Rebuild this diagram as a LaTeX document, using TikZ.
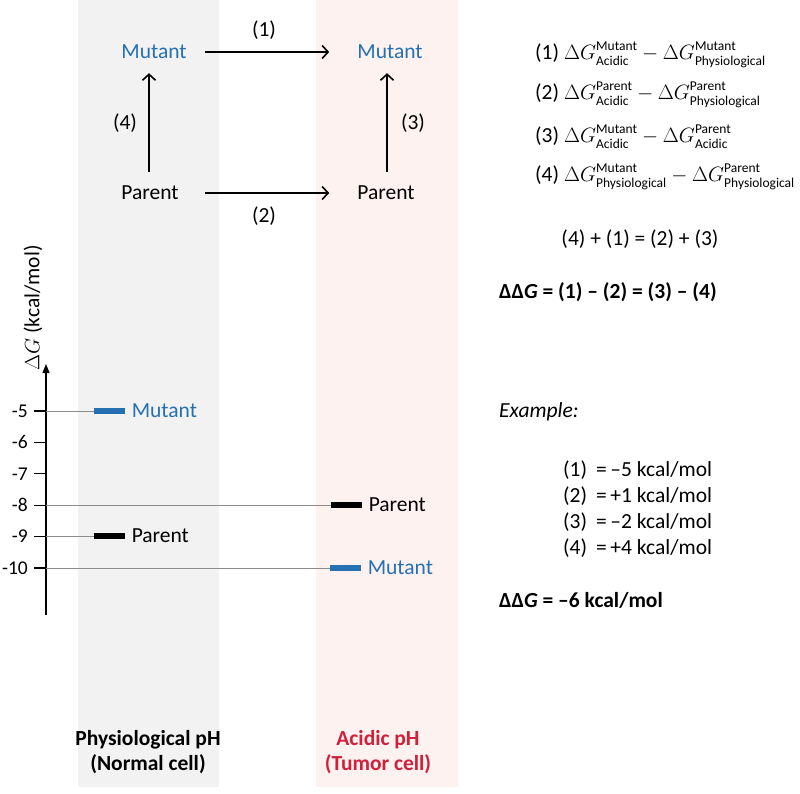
\documentclass[tikz,border=0pt]{standalone}
\usepackage{amsmath}
\usepackage{fontspec}
\setmainfont{Carlito}
\usetikzlibrary{arrows.meta}

\definecolor{graybg}{RGB}{242,242,242}
\definecolor{pinkbg}{RGB}{253,242,240}
\definecolor{mutblue}{RGB}{36,112,178}
\definecolor{acidred}{RGB}{208,32,58}

% Delta G with a state above and a condition below
\newcommand{\smalllab}[2]{\text{\raisebox{#1}{\fontsize{13.5}{13.5}\selectfont #2}}}
\newcommand{\dG}[2]{\Delta G^{\smalllab{1.5pt}{#1}}_{\smalllab{-1pt}{#2}}}

\begin{document}
\begin{tikzpicture}[x=1pt,y=-1pt,
  every node/.style={font=\fontsize{21.5}{25}\selectfont,inner sep=2pt},
  state/.style={},
  mutant/.style={state,text=mutblue},
  trans/.style={-{Straight Barb[length=6pt,width=13pt]},line width=1.6pt},
  level/.style={line width=5.5pt},
  guide/.style={black!45,line width=0.5pt},
  ticklabel/.style={font=\fontsize{19.5}{22}\selectfont,anchor=east},
  eqline/.style={anchor=west}]
\useasboundingbox (0,0) rectangle (800,794);

% the two conditions
\fill[graybg] (78,0) rectangle (219,787);
\fill[pinkbg] (316,0) rectangle (458,787);

% thermodynamic cycle
\node[mutant] (mutphys) at (154,52) {Mutant};
\node[mutant] (mutacid) at (390,52) {Mutant};
\node[state] (parphys) at (150,193) {Parent};
\node[state] (paracid) at (386,193) {Parent};

\draw[trans] ([xshift=16pt]mutphys.east) -- ([xshift=-26pt]mutacid.west);
\draw[trans] ([xshift=24pt]parphys.east) -- ([xshift=-26pt]paracid.west);
\draw[trans] ([xshift=-1pt,yshift=12pt]parphys.north) -- ([xshift=-1pt,yshift=-12pt]parphys.north |- mutphys.south);
\draw[trans] ([xshift=1pt,yshift=12pt]paracid.north) -- ([xshift=1pt,yshift=-12pt]paracid.north |- mutacid.south);

\node (lab1) at (264,30) {(1)};
\node (lab2) at (264,216) {(2)};
\node (lab3) at (413,123) {(3)};
\node (lab4) at (125,123) {(4)};

% energy axis
\coordinate (axbot) at (46,615);
\coordinate (axtop) at (46,364);
\draw[-{Triangle[length=9pt,width=7pt]},line width=1.3pt] (axbot) -- (axtop);
\node[rotate=90] (axlabel) at (33,308) {$\Delta G$ (kcal/mol)};
\foreach \v [count=\i from 0] in {-5,-6,-7,-8,-9,-10}
  {\draw[line width=1.3pt] (34,411+31.4*\i) -- (46,411+31.4*\i);
   \node[ticklabel] (tick\i) at (30,411+31.4*\i) {\v};}

% energy levels
\foreach \y/\x/\col/\name/\id in {411/94/mutblue/Mutant/mp, 505/331/black/Parent/pa,
                                 536/94/black/Parent/pp, 568/330/mutblue/Mutant/ma}
  {\draw[guide] (46,\y) -- (\x,\y);
   \draw[level,\col] (\x,\y) -- (\x+31,\y)
     node[right=2pt,text=\col] (lev\id) {\name};}

% definitions
\node[eqline] (eq1) at (533,55) {(1)\hspace{5pt}$\dG{Mutant}{Acidic} - \dG{Mutant}{Physiological}$};
\node[eqline] (eq2) at (533,95) {(2)\hspace{5pt}$\dG{Parent}{Acidic} - \dG{Parent}{Physiological}$};
\node[eqline] (eq3) at (533,137) {(3)\hspace{5pt}$\dG{Mutant}{Acidic} - \dG{Parent}{Acidic}$};
\node[eqline] (eq4) at (533,177) {(4)\hspace{5pt}$\dG{Mutant}{Physiological} - \dG{Parent}{Physiological}$};

\node (cycle) at (640,239) {(4) + (1) = (2) + (3)};
\node[eqline] (ddg) at (497,292) {\textbf{ΔΔ\textit{G} = (1) – (2) = (3) – (4)}};

% worked example
\node[eqline] (extitle) at (497,412) {\textit{Example:}};
\foreach \n/\val [count=\i from 0] in {1/–5,2/+1,3/–2,4/+4}
  \node[eqline] (ex\n) at (561,470+26*\i) {(\n)\hspace{9pt}=\,\val{} kcal/mol};
\node[eqline] (exddg) at (497,600) {\textbf{ΔΔ\textit{G} = –6 kcal/mol}};

% condition captions
\node[align=center,font=\fontsize{21.5}{25}\selectfont\bfseries] (physcap) at (148,752) {Physiological pH\\(Normal cell)};
\node[align=center,font=\fontsize{21.5}{25}\selectfont\bfseries,text=acidred] (acidcap) at (378,752) {Acidic pH\\(Tumor cell)};
\end{tikzpicture}
\end{document}
